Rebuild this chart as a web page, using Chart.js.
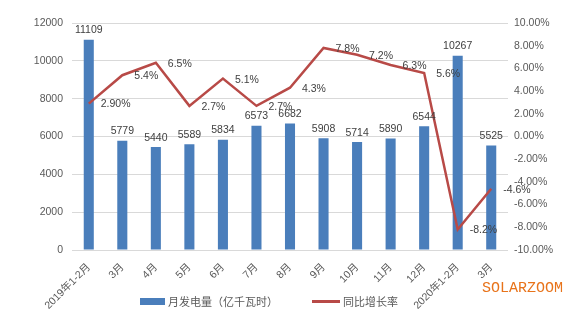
<!DOCTYPE html>
<html>
<head>
<meta charset="utf-8">
<script src="https://cdn.jsdelivr.net/npm/chart.js@4"></script>
<style>
  html, body { margin: 0; padding: 0; background: #fff; }
  #wrap { width: 585px; height: 323px; position: relative; }
</style>
</head>
<body>
<div id="wrap"><canvas id="myChart" width="585" height="323"></canvas></div>
<script>
const months = ['2019年1-2月', '3月', '4月', '5月', '6月', '7月', '8月', '9月', '10月', '11月', '12月', '2020年1-2月', '3月'];
const output = [11109, 5779, 5440, 5589, 5834, 6573, 6682, 5908, 5714, 5890, 6544, 10267, 5525];
const growth = [2.9, 5.4, 6.5, 2.7, 5.1, 2.7, 4.3, 7.8, 7.2, 6.3, 5.6, -8.2, -4.6];
const growthText = ['2.90%', '5.4%', '6.5%', '2.7%', '5.1%', '2.7%', '4.3%', '7.8%', '7.2%', '6.3%', '5.6%', '-8.2%', '-4.6%'];

const blue = '#4a7ebb';
const red = '#b84a47';
const grey = '#595959';
const fontFam = '"Liberation Sans", "Noto Sans CJK SC", sans-serif';

// value labels, legend and watermark
const extras = {
  id: 'extras',
  afterDatasetsDraw(chart) {
    const c = chart.ctx;
    c.save();
    c.font = '10.5px ' + fontFam;
    c.fillStyle = '#404040';
    // bar labels
    const bars = chart.getDatasetMeta(0).data;
    c.textAlign = 'center';
    c.textBaseline = 'bottom';
    bars.forEach((b, i) => c.fillText(String(output[i]), b.x, b.y - 4));
    // line labels
    const pts = chart.getDatasetMeta(1).data;
    c.textAlign = 'left';
    c.textBaseline = 'middle';
    pts.forEach((p, i) => c.fillText(growthText[i], p.x + 12, p.y + 1));
    c.restore();
  },
  afterDraw(chart) {
    const c = chart.ctx;
    c.save();
    // legend
    c.fillStyle = blue;
    c.fillRect(140, 298, 25, 7);
    c.strokeStyle = red;
    c.lineWidth = 3;
    c.beginPath();
    c.moveTo(312, 301.5);
    c.lineTo(340, 301.5);
    c.stroke();
    c.fillStyle = grey;
    c.font = '11px "Noto Sans CJK SC", sans-serif';
    c.textBaseline = 'middle';
    c.textAlign = 'left';
    c.fillText(chart.data.datasets[0].label, 168, 302);
    c.fillText(chart.data.datasets[1].label, 343, 302);
    // watermark
    c.fillStyle = '#e8731a';
    c.font = '15px "Liberation Mono", monospace';
    c.fillText('SOLARZOOM', 482, 288);
    c.restore();
  }
};

new Chart(document.getElementById('myChart'), {
  type: 'bar',
  data: {
    labels: months,
    datasets: [{
      label: '月发电量（亿千瓦时）',
      data: output,
      backgroundColor: blue,
      barPercentage: 0.6,
      categoryPercentage: 0.5,
      yAxisID: 'y',
      order: 2
    }, {
      type: 'line',
      label: '同比增长率',
      data: growth,
      borderColor: red,
      backgroundColor: red,
      borderWidth: 2.5,
      pointRadius: 0,
      tension: 0,
      yAxisID: 'y1',
      order: 1
    }]
  },
  plugins: [extras],
  options: {
    responsive: false,
    animation: false,
    layout: { padding: { top: 23, bottom: 3, left: 0, right: 0 } },
    plugins: {
      legend: { display: false },
      tooltip: { enabled: false }
    },
    scales: {
      x: {
        grid: { display: false },
        border: { display: false },
        ticks: {
          color: grey,
          font: { size: 10.5, family: fontFam },
          maxRotation: 45,
          minRotation: 45,
          padding: 3,
          autoSkip: false
        },
        afterFit: s => { s.height = 70; }
      },
      y: {
        position: 'left',
        min: 0,
        max: 12000,
        ticks: {
          stepSize: 2000,
          color: grey,
          font: { size: 10.5, family: fontFam },
          padding: 9,
          callback: v => String(v)
        },
        grid: { color: '#d9d9d9', drawTicks: false },
        border: { display: false },
        afterFit: s => { s.width = 72; }
      },
      y1: {
        position: 'right',
        min: -10,
        max: 10,
        ticks: {
          stepSize: 2,
          color: grey,
          font: { size: 10.5, family: fontFam },
          padding: 6,
          callback: v => v.toFixed(2) + '%'
        },
        grid: { display: false, drawTicks: false },
        border: { display: false },
        afterFit: s => { s.width = 77; }
      }
    }
  }
});
</script>
</body>
</html>
